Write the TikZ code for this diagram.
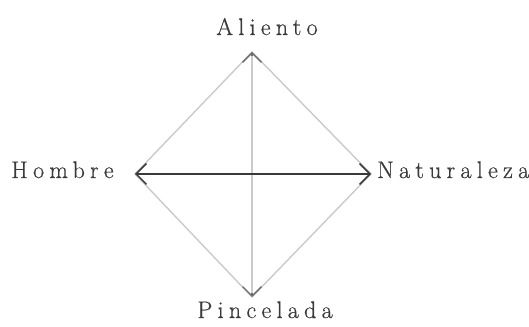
\documentclass[tikz,border=0pt]{standalone}
\usepackage{fontspec}
\setmainfont{Latin Modern Roman}[LetterSpace=22,FakeBold=0.6]
\usetikzlibrary{arrows.meta}

\definecolor{tinta}{HTML}{3A3A3A}
\definecolor{gris}{HTML}{CACACA}

\begin{document}
\begin{tikzpicture}[
    etiqueta/.style={inner sep=0pt,text=tinta,font=\fontsize{24}{28}\selectfont},
    punta/.style={{Straight Barb[scale=2.3]}-{Straight Barb[scale=2.3]}},
    arista/.style={gris,line width=1.4pt}]
    \useasboundingbox (0,0) rectangle (529pt,326pt);
    % Vértices del rombo
    \coordinate (arriba) at (252pt,274pt);
    \coordinate (izq) at (135pt,152pt);
    \coordinate (der) at (371pt,152pt);
    \coordinate (abajo) at (252pt,29pt);
    % Etiquetas
    \node[etiqueta, anchor=base] (aliento) at (267pt,291pt) {Aliento};
    \node[etiqueta, anchor=base west] (hombre) at (11pt,148pt) {Hombre};
    \node[etiqueta, anchor=base west] (naturaleza) at (377pt,148pt) {Naturaleza};
    \node[etiqueta, anchor=base] (pincelada) at (265pt,8pt) {Pincelada};
    % Lados del rombo
    \draw[arista] (arriba) -- (izq) -- (abajo) -- (der) -- cycle;
    % Eje vertical y eje horizontal
    \draw[punta, tinta!75, line width=1.3pt] (arriba) -- (abajo);
    \draw[arista, shorten >=4pt, shorten <=4pt] (arriba) -- (abajo);
    \draw[punta, tinta, line width=1.5pt] (izq) -- (der);
\end{tikzpicture}
\end{document}
